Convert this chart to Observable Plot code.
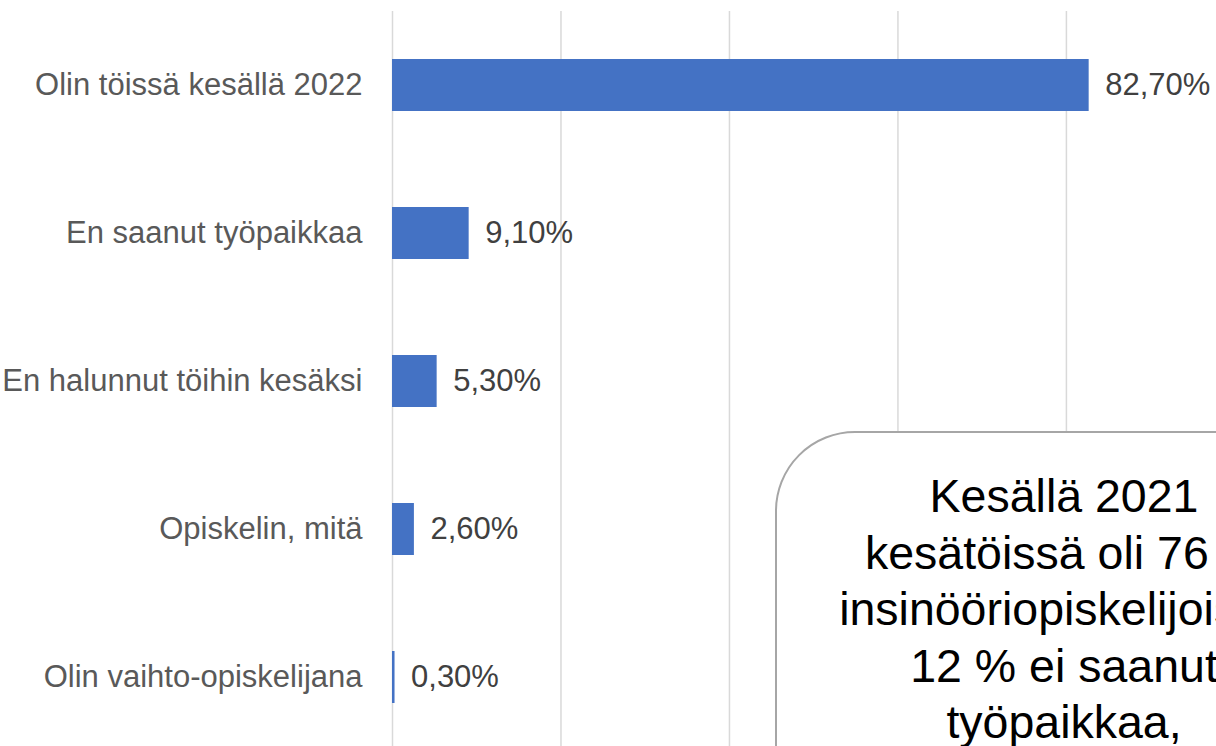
<!DOCTYPE html>
<html>
<head>
<meta charset="utf-8">
<script src="https://cdn.jsdelivr.net/npm/d3@7"></script>
<script src="https://cdn.jsdelivr.net/npm/@observablehq/plot@0.6"></script>
<style>
  html, body { margin: 0; padding: 0; background: #fff; overflow: hidden; }
  #wrap { position: relative; width: 1216px; height: 746px; overflow: hidden; background: #fff; }
  #callout {
    position: absolute; left: 775px; top: 431px; width: 576px; height: 420px;
    box-sizing: border-box; border: 2px solid #a6a6a6; border-radius: 80px; background: #fff;
    font-family: "Liberation Sans", Arial, sans-serif; font-size: 46.5px; color: #000;
    text-align: center; white-space: nowrap;
  }
  #callout .line { position: absolute; left: 0; width: 100%; line-height: 1; }
</style>
</head>
<body>
<div id="wrap"><div id="chart"></div><div id="callout"></div></div>
<script>
const categories = ["Olin töissä kesällä 2022", "En saanut työpaikkaa", "En halunnut töihin kesäksi", "Opiskelin, mitä", "Olin vaihto-opiskelijana"];
const values = [82.7, 9.1, 5.3, 2.6, 0.3];
const xTicks = [0, 20, 40, 60, 80, 100];
const calloutLines = ["Kesällä 2021", "kesätöissä oli 76 %", "insinööriopiskelijoista,", "12 % ei saanut", "työpaikkaa,"];

const data = categories.map((c, i) => ({category: c, value: values[i]}));
const fmt = v => v.toFixed(2).replace(".", ",") + "%";

const chart = Plot.plot({
  width: 1216,
  height: 746,
  marginLeft: 392,
  marginRight: -18.4,
  marginTop: 11,
  marginBottom: -5,
  style: {fontFamily: "'Liberation Sans', Arial, sans-serif", fontSize: "31px", color: "#595959", background: "#fff"},
  x: {domain: [0, 100], axis: null},
  y: {domain: categories, paddingInner: 0.65, paddingOuter: 0.325, tickSize: 0, tickPadding: 30, label: null},
  marks: [
    Plot.ruleX(xTicks, {stroke: "#d9d9d9", strokeWidth: 1.5}),
    Plot.barX(data, {y: "category", x: "value", fill: "#4472C4"}),
    Plot.text(data, {y: "category", x: "value", text: d => fmt(d.value), dx: 16, textAnchor: "start", fill: "#404040", fontSize: 31})
  ]
});
document.getElementById("chart").appendChild(chart);

const callout = document.getElementById("callout");
const baseTop = 40, lineStep = 56.5;
calloutLines.forEach((t, i) => {
  const d = document.createElement("div");
  d.className = "line";
  d.style.top = (baseTop + i * lineStep) + "px";
  d.style.left = "1px";
  d.textContent = t;
  callout.appendChild(d);
});
</script>
</body>
</html>
